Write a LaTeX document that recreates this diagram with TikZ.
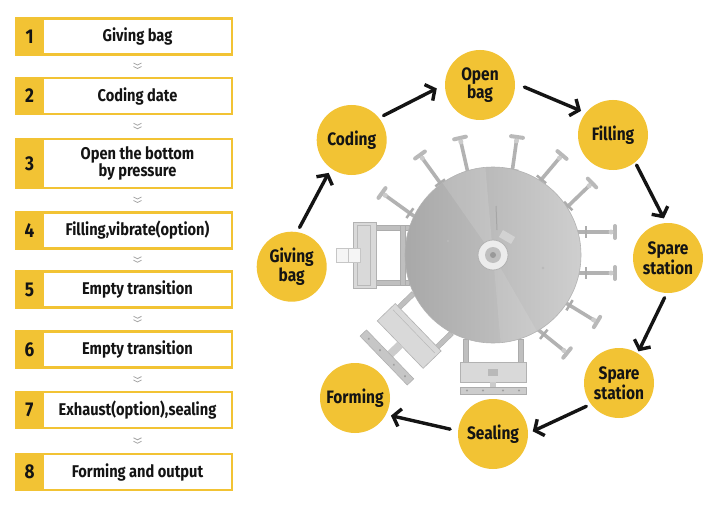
\documentclass[tikz,border=0pt]{standalone}
\usepackage{fontspec}
\setmainfont{Fira Sans}[FakeStretch=0.86]
\usetikzlibrary{arrows.meta,calc}
\definecolor{ylw}{RGB}{242,195,52}
\definecolor{ink}{RGB}{20,20,20}
\begin{document}
\begin{tikzpicture}[x=1pt,y=-1pt,
  stepnum/.style={draw=ylw, line width=2.4pt, fill=ylw, minimum width=27pt, minimum height=36pt, inner sep=0pt, text=ink, font=\fontsize{20}{20}\selectfont\bfseries},
  steptxt/.style={draw=ylw, line width=2.4pt, fill=white, minimum width=189pt, minimum height=36pt, inner sep=0pt, align=center, text=ink, font=\fontsize{17}{17}\selectfont\bfseries},
  station/.style={circle, fill=ylw, minimum size=70pt, inner sep=0pt, align=center, text=ink, font=\fontsize{18}{17}\selectfont\bfseries},
  flow/.style={line width=3.4pt, ink, -{Straight Barb[length=7pt,width=18pt]}, shorten <=5pt, shorten >=5pt, line cap=round, line join=round},
  chev/.pic={\draw[gray!70, line width=0.8pt] (-4,-3.2) -- (0,-1.2) -- (4,-3.2) (-4,0.2) -- (0,2.2) -- (4,0.2);},
  armrod/.style={gray!60, line width=3.6pt},
  armcap/.style={gray!55, line width=4pt, line cap=round},
  plate/.style={fill=gray!30, draw=gray!60, line width=0.6pt},
  bar/.style={fill=gray!50, draw=gray!65, line width=0.4pt}
]
\useasboundingbox (0,0) rectangle (720,516);
\fill[white] (0,0) rectangle (720,516);

% ---------- left column of steps ----------
\foreach \i/\y/\h/\t in {1/36.5/36/{Giving bag},2/96/36/{Coding date},3/163.5/49/{Open the bottom\\by pressure},4/230.5/36/{Filling,vibrate(option)},5/289.5/36/{Empty transition},6/349.5/36/{Empty transition},7/410/36/{Exhaust(option),sealing},8/472/36/{Forming and output}}{
  \node[steptxt, minimum height=\h pt] (s\i) at (137.5,\y) {\t};
  \node[stepnum, minimum height=\h pt] (n\i) at (29.5,\y) {\i};
}
\foreach \a/\b in {1/2,2/3,3/4,4/5,5/6,6/7,7/8}{
  \path ($(s\a.south)!0.5!(s\b.north)$) pic {chev};
}

% ---------- machine (simplified photo) ----------
% small arms
\foreach \bx/\by/\tx/\ty in {470/182/460/138, 511/180/517/137, 446/191/420/155, 535/187/562/155, 561/213/592/183, 418/219/382/193, 576/232/615/232, 576/273/615/273, 561/300/597/322, 536/328/567/353}{
  \draw[armrod] (\bx,\by) -- (\tx,\ty);
  \draw[armcap] ($(\tx,\ty)!6pt!90:(\bx,\by)$) -- ($(\tx,\ty)!6pt!-90:(\bx,\by)$);
  \fill[gray!40] ($(\tx,\ty)!4pt!(\bx,\by)$) circle[radius=2.5pt];
  \draw[gray!65, line width=2.5pt] ($($(\bx,\by)!10pt!(\tx,\ty)$)!6pt!90:(\tx,\ty)$) -- ($($(\bx,\by)!10pt!(\tx,\ty)$)!6pt!-90:(\tx,\ty)$);
}
% left station
\begin{scope}[shift={(493,255)}, rotate=180]
  \fill[bar] (84,-30) rectangle (119,-25);
  \fill[bar] (84,25) rectangle (119,30);
  \fill[bar] (88,-30) rectangle (93,30);
  \draw[plate] (117,-33) rectangle (140,33);
  \draw[gray!55, line width=0.5pt] (123,-30) rectangle (136,30);
  \draw[fill=gray!8, draw=gray!45, line width=0.5pt] (133,-7) rectangle (157,7);
  \draw[gray!45, line width=0.5pt] (145,-7) -- (145,7);
\end{scope}
% lower-left station
\begin{scope}[shift={(493,255)}, rotate=224]
  \fill[bar] (84,-30) rectangle (106,-25);
  \fill[bar] (84,25) rectangle (106,30);
  \draw[plate] (104,-33) rectangle (129,33);
  \draw[gray!55, line width=0.5pt] (110,-30) -- (110,30);
  \fill[gray!40] (129,-4) rectangle (143,4);
  \draw[fill=gray!45, draw=gray!65, line width=0.5pt] (143,-34) rectangle (152,34);
  \foreach \t in {-26,-10,10,26} \fill[gray!75] (147.5,\t) circle[radius=1.2pt];
\end{scope}
% bottom station
\begin{scope}[shift={(493,255)}, rotate=270]
  \fill[bar] (84,-30) rectangle (108,-25);
  \fill[bar] (84,25) rectangle (108,30);
  \draw[plate] (107,-33) rectangle (127,33);
  \fill[gray!55] (114,-5) rectangle (121,5);
  \fill[gray!40] (127,-3) rectangle (132,3);
  \draw[fill=gray!40, draw=gray!65, line width=0.5pt] (132,-33) rectangle (139,33);
  \foreach \t in {-26,-10,10,26} \fill[gray!75] (135.5,\t) circle[radius=1.1pt];
\end{scope}
% disk
\shade[left color=gray!68, right color=gray!38] (493,255) circle[radius=88pt];
\fill[white, opacity=0.12] (493,255) -- ++(95:88pt) arc[start angle=95, end angle=125, radius=88pt] -- cycle;
\fill[white, opacity=0.10] (493,255) -- ++(275:88pt) arc[start angle=275, end angle=300, radius=88pt] -- cycle;
\draw[gray!60, line width=0.6pt] (493,255) circle[radius=88pt];
% hub
\draw[gray!70, line width=1pt] (496,206) -- (497,230);
\fill[gray!35, rotate around={-30:(507,237)}] (500,233) rectangle (514,241);
\draw[fill=gray!15, draw=gray!60, line width=0.8pt] (493,255) circle[radius=15pt];
\fill[gray!50] (493,255) circle[radius=8pt];
\fill[gray!80] (493,255) circle[radius=3pt];
\fill[gray!55] (448,241) circle[radius=1.3pt];
\fill[gray!55] (543,268) circle[radius=1.3pt];

% ---------- stations ----------
\node[station] (giving) at (291.7,266.7) {Giving\\bag};
\node[station] (coding) at (351.7,140) {Coding};
\node[station] (open)   at (480,85) {Open\\bag};
\node[station] (filling) at (613,135) {Filling};
\node[station] (spare1) at (668,258) {Spare\\station};
\node[station] (spare2) at (619,383) {Spare\\station};
\node[station] (sealing) at (493,434) {Sealing};
\node[station] (forming) at (355,398) {Forming};

\draw[flow] (giving.81) -- (coding.234);
\draw[flow, shorten >=9pt] (coding.39) -- (open.179);
\draw[flow, shorten <=10pt] (open.3) -- (filling.141);
\draw[flow, shorten <=3pt] (filling.-51) -- (spare1.93);
\draw[flow, shorten >=2pt] (spare1.268) -- (spare2.58);
\draw[flow] (spare2.217) -- (sealing.1);
\draw[flow, shorten <=8pt] (sealing.175) -- (forming.-28);
\end{tikzpicture}
\end{document}
